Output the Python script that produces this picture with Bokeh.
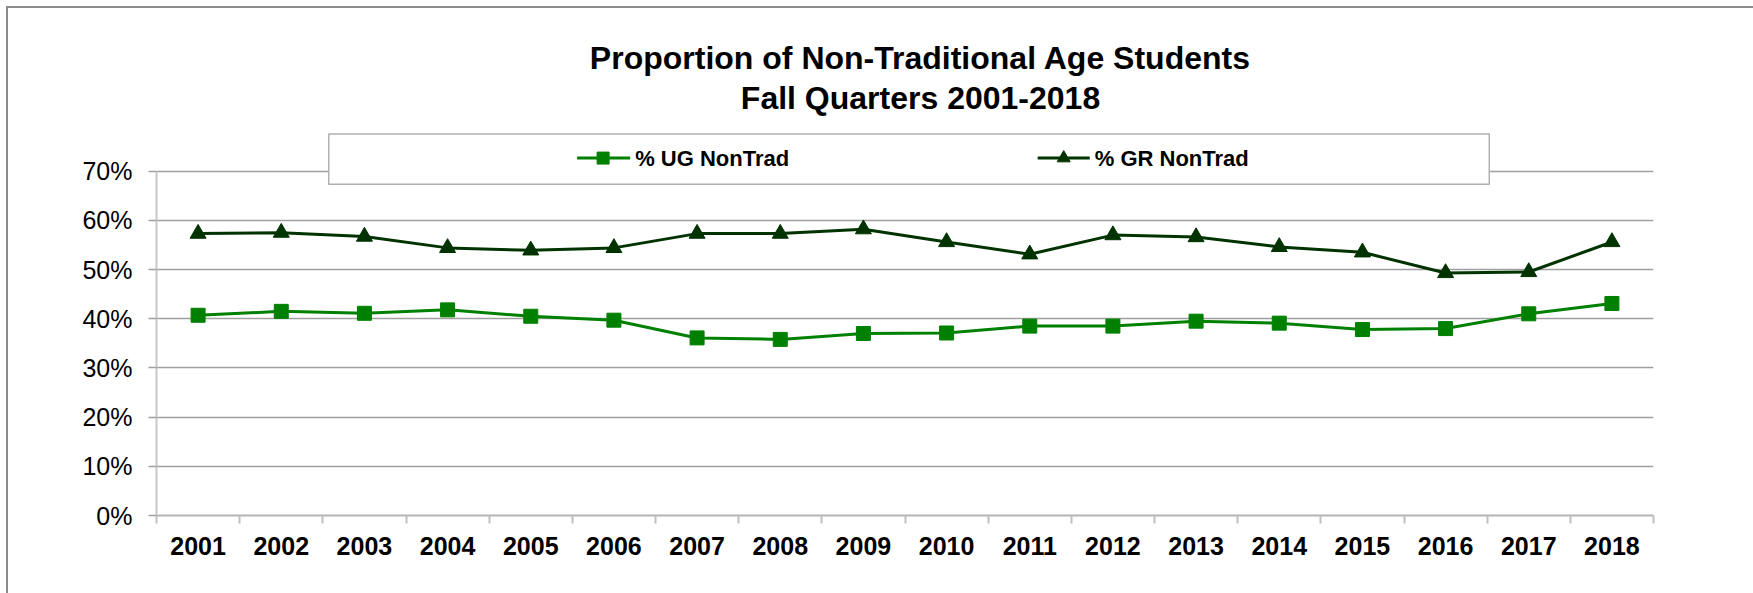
from bokeh.plotting import figure
from bokeh.models import Range1d, FixedTicker, NumeralTickFormatter
from bokeh.core.properties import value
from bokeh.embed import file_html
from bokeh.resources import INLINE

# ---- data ----
years = ["2001", "2002", "2003", "2004", "2005", "2006", "2007", "2008", "2009",
         "2010", "2011", "2012", "2013", "2014", "2015", "2016", "2017", "2018"]
ug_nontrad = [0.407, 0.415, 0.411, 0.418, 0.405, 0.397, 0.361, 0.358, 0.370,
              0.371, 0.385, 0.385, 0.395, 0.391, 0.378, 0.380, 0.410, 0.431]
gr_nontrad = [0.573, 0.575, 0.567, 0.544, 0.539, 0.544, 0.573, 0.573, 0.582,
              0.556, 0.531, 0.570, 0.566, 0.546, 0.535, 0.493, 0.495, 0.556]
y_ticks = [0.0, 0.1, 0.2, 0.3, 0.4, 0.5, 0.6, 0.7]
title_lines = ["Proportion of Non-Traditional Age Students", "Fall Quarters 2001-2018"]
series_names = ["% UG NonTrad", "% GR NonTrad"]

UG_COLOR = "#008000"
GR_COLOR = "#003300"
FONT = "Liberation Sans"

OFF = 8  # canvas origin on the page (6px margin + 2px border)
W, H = 1745, 585
ML, MR, MT, MB = 148, 102, 0, 80
n = len(years)
frame_w = W - ML - MR
frame_h = H - MT - MB
y_scale = 490.0  # px per unit (343 px for 0.7)

# helpers: page pixel -> data coords
def X(px):
    return (px - OFF - ML) / (frame_w / n)

def Y(py):
    return (H - MB + OFF - py) / y_scale

centers = [i + 0.5 for i in range(n)]

p = figure(width=W, height=H, output_backend="svg", toolbar_location=None,
           x_range=Range1d(0, n), y_range=Range1d(0, frame_h / y_scale),
           min_border_left=ML, min_border_right=MR, min_border_top=MT,
           min_border_bottom=MB)
p.outline_line_color = None
p.background_fill_color = "white"
p.border_fill_color = "white"
p.styles = {"margin-left": "6px", "margin-top": "6px",
            "border-left": "2px solid #8c8c8c", "border-top": "2px solid #8c8c8c",
            "box-sizing": "content-box"}

# x axis
xa = p.xaxis[0]
xa.ticker = FixedTicker(ticks=centers, minor_ticks=list(range(n + 1)))
xa.major_label_overrides = {c: y for c, y in zip(centers, years)}
xa.major_tick_out = 0
xa.major_tick_in = 0
xa.minor_tick_out = 8
xa.minor_tick_in = 0
xa.minor_tick_line_color = "#c0c0c0"
xa.minor_tick_line_width = 2
xa.axis_line_color = "#b4b4b4"
xa.axis_line_width = 2
xa.major_label_text_font = FONT
xa.major_label_text_font_size = "25px"
xa.major_label_text_font_style = "bold"
xa.major_label_text_color = "black"
xa.major_label_standoff = 13

# y axis
ya = p.yaxis[0]
ya.ticker = FixedTicker(ticks=y_ticks)
ya.formatter = NumeralTickFormatter(format="0%")
ya.bounds = (0, 0.7)
ya.axis_line_color = "#c8c8c8"
ya.axis_line_width = 2
ya.major_tick_out = 8
ya.major_tick_in = 0
ya.major_tick_line_color = "#a0a0a0"
ya.major_tick_line_width = 1.5
ya.minor_tick_line_color = None
ya.major_label_text_font = FONT
ya.major_label_text_font_size = "25px"
ya.major_label_text_color = "black"
ya.major_label_standoff = 16

p.xgrid.visible = False
p.ygrid.ticker = FixedTicker(ticks=y_ticks)
p.ygrid.grid_line_color = "#a0a0a0"
p.ygrid.grid_line_width = 1.5

# data series
p.line(centers, gr_nontrad, line_color=GR_COLOR, line_width=3)
p.scatter(centers, gr_nontrad, marker="triangle", size=16,
          fill_color=GR_COLOR, line_color=GR_COLOR)
p.line(centers, ug_nontrad, line_color=UG_COLOR, line_width=3)
p.scatter(centers, ug_nontrad, marker="square", size=14,
          fill_color=UG_COLOR, line_color=UG_COLOR)

# title (y = visual centre of the capitals)
p.text(x=[X(919), X(919)], y=[Y(57), Y(97)], text=title_lines,
       text_font=value(FONT), text_font_size="32px", text_font_style="bold",
       text_align="center", text_baseline="alphabetic", text_color="black")

# legend box
p.quad(left=[X(328)], right=[X(1487)], top=[Y(133)], bottom=[Y(183)],
       fill_color="white", line_color="#b0b0b0", line_width=1.5)
# legend item 1
p.line([X(576), X(629)], [Y(157), Y(157)], line_color=UG_COLOR, line_width=3)
p.scatter([X(602)], [Y(157)], marker="square", size=12,
          fill_color=UG_COLOR, line_color=UG_COLOR)
# legend item 2
p.line([X(1036), X(1088)], [Y(157), Y(157)], line_color=GR_COLOR, line_width=3)
p.scatter([X(1062)], [Y(157)], marker="triangle", size=13,
          fill_color=GR_COLOR, line_color=GR_COLOR)
p.text(x=[X(634), X(1093)], y=[Y(157), Y(157)], text=series_names,
       text_font=value(FONT), text_font_size="22px", text_font_style="bold",
       text_align="left", text_baseline="alphabetic", text_color="black")

open("out.html", "w").write(file_html(p, INLINE))
